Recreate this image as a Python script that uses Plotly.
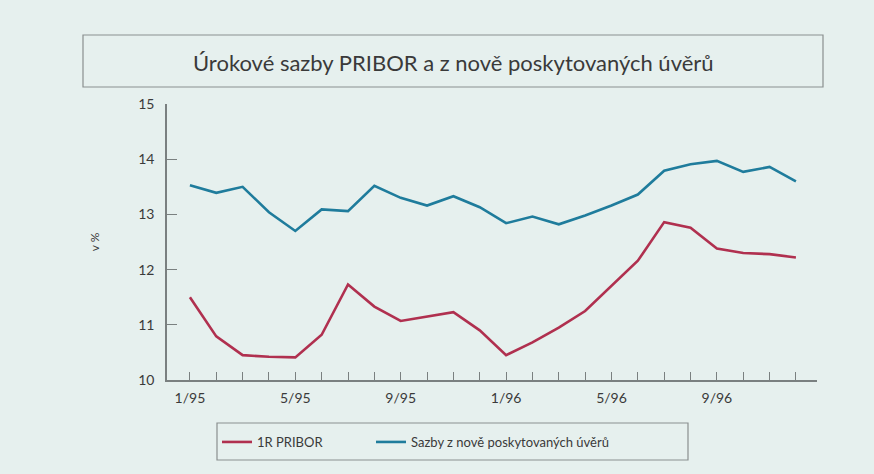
import plotly.graph_objects as go

months = ["1/95", "2/95", "3/95", "4/95", "5/95", "6/95", "7/95", "8/95", "9/95", "10/95", "11/95", "12/95",
          "1/96", "2/96", "3/96", "4/96", "5/96", "6/96", "7/96", "8/96", "9/96", "10/96", "11/96", "12/96"]
pribor = [11.50, 10.79, 10.45, 10.42, 10.41, 10.82, 11.73, 11.33, 11.07, 11.15, 11.23, 10.90,
          10.45, 10.68, 10.95, 11.25, 11.71, 12.16, 12.86, 12.76, 12.38, 12.30, 12.28, 12.22]
uvery = [13.53, 13.39, 13.50, 13.04, 12.70, 13.09, 13.06, 13.52, 13.30, 13.16, 13.33, 13.13,
         12.84, 12.96, 12.82, 12.98, 13.16, 13.36, 13.79, 13.91, 13.97, 13.77, 13.86, 13.60]
labeled = ["1/95", "5/95", "9/95", "1/96", "5/96", "9/96"]
yticks = [10, 11, 12, 13, 14, 15]

BG = "#e6f0ee"
RED = "#b0304f"
BLUE = "#1f7c9c"
AX = "#7a8080"
TXT = "#3a3a3a"
FONT = "Lato"

x = list(range(len(months)))
fig = go.Figure()
fig.add_trace(go.Scatter(x=x, y=pribor, mode="lines", name="1R PRIBOR",
                         line=dict(color=RED, width=2.6), legend="legend"))
fig.add_trace(go.Scatter(x=x, y=uvery, mode="lines", name="Sazby z nově poskytovaných úvěrů",
                         line=dict(color=BLUE, width=2.6), legend="legend2"))

L, R, T, B = 167, 57, 104, 94
W, H = 874, 474
pw, ph = W - L - R, H - T - B

def px(v):
    return (v - L) / pw

def py(v):
    return (H - B - v) / ph

leg_common = dict(orientation="h", xanchor="left", yanchor="top",
                  bgcolor="rgba(0,0,0,0)", borderwidth=0, font=dict(size=13, color=TXT, family=FONT),
                  itemwidth=30)

fig.update_layout(
    width=W, height=H,
    margin=dict(l=L, r=R, t=T, b=B),
    paper_bgcolor=BG, plot_bgcolor=BG,
    font=dict(family=FONT, color=TXT, size=13),
    showlegend=True,
    legend=dict(x=px(217), y=py(427), **leg_common),
    legend2=dict(x=px(371), y=py(427), **leg_common),
    xaxis=dict(range=[-0.87, 23.8], tickvals=x,
               ticktext=[m if m in labeled else "" for m in months],
               ticks="inside", ticklen=8, tickcolor=AX, tickwidth=1,
               showline=True, linecolor=AX, linewidth=1.5, showgrid=False, zeroline=False,
               tickfont=dict(size=14, color=TXT), ticklabelstandoff=4, fixedrange=True),
    yaxis=dict(range=[10, 15], tickvals=yticks, ticks="inside", ticklen=10, tickcolor=AX,
               tickwidth=1, showline=True, linecolor=AX, linewidth=1.5, showgrid=False,
               zeroline=False, tickfont=dict(size=14, color=TXT), ticklabelstandoff=8,
               title=dict(text="v %", font=dict(size=12, color=TXT), standoff=36), fixedrange=True),
    shapes=[
        dict(type="rect", xref="paper", yref="paper", x0=px(83), x1=px(823), y0=py(35), y1=py(87),
             line=dict(color="#8a8f8f", width=1.2), fillcolor="rgba(0,0,0,0)", layer="below"),
        dict(type="rect", xref="paper", yref="paper", x0=px(217), x1=px(688), y0=py(423), y1=py(460),
             line=dict(color="#8a8f8f", width=1.2), fillcolor="rgba(0,0,0,0)", layer="below"),
    ],
    annotations=[
        dict(text="Úrokové sazby PRIBOR a z nově poskytovaných úvěrů", xref="paper", yref="paper",
             x=px(453), y=py(62), xanchor="center", yanchor="middle", showarrow=False,
             font=dict(size=22, color=TXT, family=FONT)),
    ],
)

fig.write_html("out.html", post_script="document.body.style.margin='0';",
               config={"displayModeBar": False})
